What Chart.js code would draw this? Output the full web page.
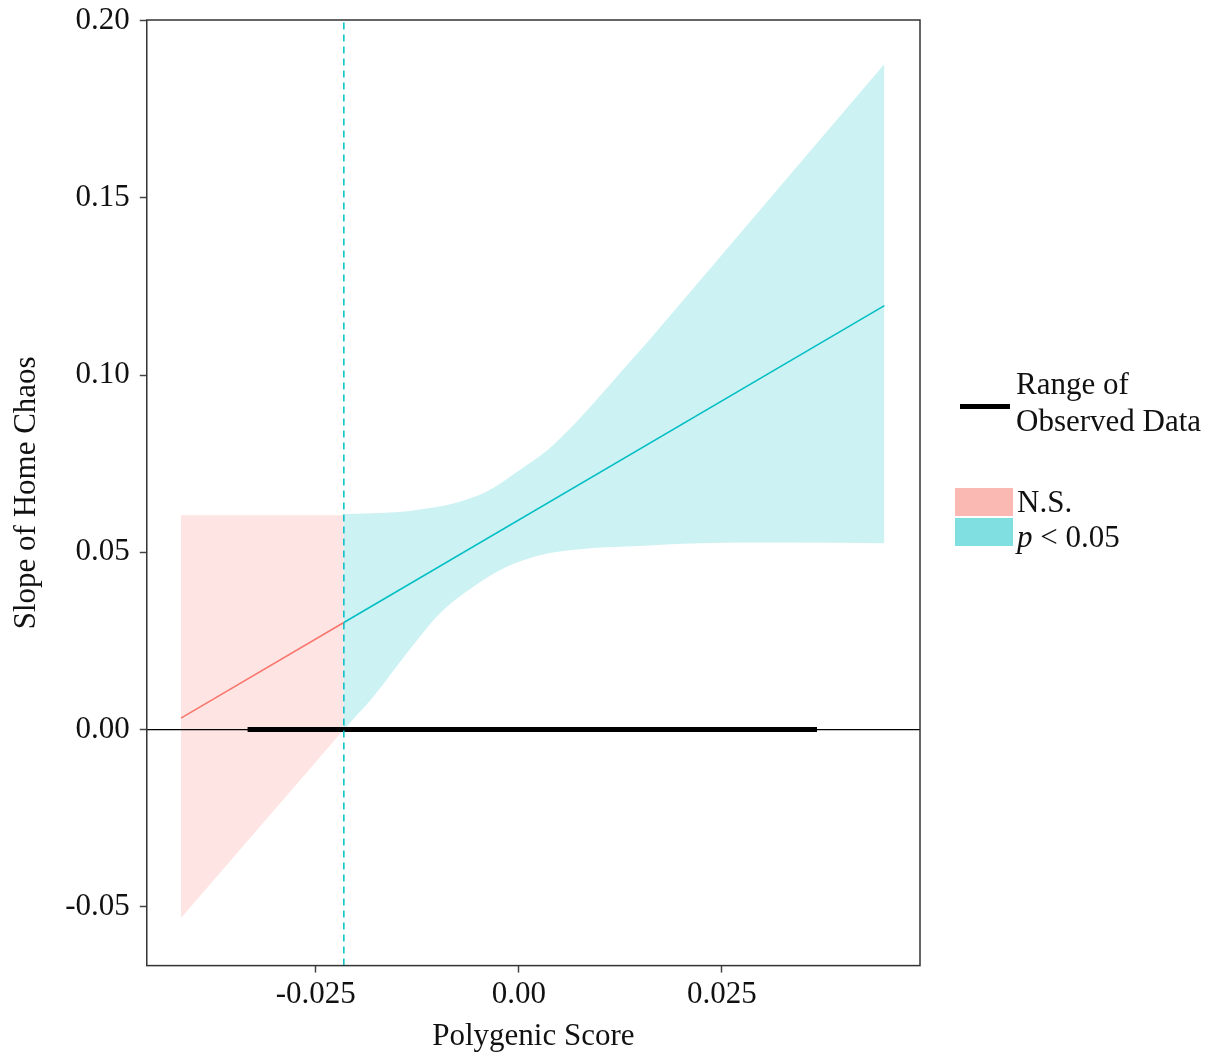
<!DOCTYPE html>
<html>
<head>
  <meta charset="UTF-8" />
  <title>Slope of Home Chaos</title>
  <script src="https://cdn.jsdelivr.net/npm/chart.js"></script>
  <style>
    body { margin: 0; background: #fff; }
    #wrap { position: relative; width: 1223px; height: 1057px; }
    #legend { position: absolute; left: 0; top: 0; font-family: 'Liberation Serif', serif; font-size: 31px; color: #111; }
    .lg { position: absolute; white-space: nowrap; line-height: 36px; }
  </style>
</head>
<body>
<div id="wrap">
  <canvas id="jnChart" width="1223" height="1057"></canvas>
  <div id="legend">
    <div class="lg" style="left:960px;top:404px;width:50px;height:5px;background:#000;"></div>
    <div class="lg" style="left:1016px;top:366px;">Range of</div>
    <div class="lg" style="left:1016px;top:403px;">Observed Data</div>
    <div class="lg" style="left:955px;top:488px;width:58px;height:28px;background:#fbb9b4;"></div>
    <div class="lg" style="left:955px;top:518px;width:58px;height:28px;background:#80dfe1;"></div>
    <div class="lg" style="left:1017px;top:484px;">N.S.</div>
    <div class="lg" style="left:1017px;top:519px;"><i>p</i> &lt; 0.05</div>
  </div>
</div>

<script>
  // axis ticks
  const xTicks = [-0.025, 0, 0.025];
  const xTickLabels = ['-0.025', '0.00', '0.025'];
  const yTicks = [0.20, 0.15, 0.10, 0.05, 0.00, -0.05];
  const yTickLabels = ['0.20', '0.15', '0.10', '0.05', '0.00', '-0.05'];

  // Johnson-Neyman point
  const jnPoint = -0.02155;

  // non-significant region band + estimate
  const nsX = [-0.0416, -0.02155];
  const nsUpper = [0.0605, 0.0605];
  const nsLower = [-0.0532, 0.0];
  const nsEstimate = [0.0032, 0.0302];

  // significant region: upper bound
  const sigUpperX = [-0.02155, -0.0147, -0.0122, -0.0081, -0.0040, 0.0001, 0.0042, 0.0140, 0.0223, 0.0334, 0.0450];
  const sigUpper = [0.0608, 0.0614, 0.0621, 0.0638, 0.0671, 0.0732, 0.0802, 0.1046, 0.1267, 0.1566, 0.1878];
  // significant region: lower bound
  const sigLowerX = [-0.02155, -0.0179, -0.0138, -0.0097, -0.0056, -0.0015, 0.0026, 0.0075, 0.0140, 0.0223, 0.0334, 0.0450];
  const sigLower = [0.0, 0.0093, 0.0215, 0.0328, 0.0403, 0.0459, 0.0492, 0.0509, 0.0517, 0.0526, 0.0528, 0.0526];
  // significant region: estimate
  const sigEstX = [-0.02155, 0.0450];
  const sigEstimate = [0.0302, 0.1196];

  // range of observed data
  const rangeX = [-0.0334, 0.0367];

  const xMin = -0.04581, xMax = 0.04938;
  const yMin = -0.0666, yMax = 0.2002;

  const red = '#F8766D';
  const teal = '#00BFC4';
  const serif = "'Liberation Serif', serif";

  const pts = (xs, ys) => xs.map((x, i) => ({ x: x, y: ys[i] }));

  const boxPlugin = {
    id: 'box',
    afterDraw(chart) {
      const a = chart.chartArea;
      const ctx = chart.ctx;
      ctx.save();
      ctx.strokeStyle = '#333';
      ctx.lineWidth = 1.5;
      ctx.strokeRect(a.left, a.top, a.right - a.left, a.bottom - a.top);
      ctx.restore();
    }
  };

  const lineDefaults = { pointRadius: 0, fill: false, tension: 0 };
  const hidden = { borderWidth: 0, borderColor: 'rgba(0,0,0,0)' };

  const datasets = [
    { ...lineDefaults, ...hidden, label: 'nsUpper', data: pts(nsX, nsUpper), order: 10 },
    { ...lineDefaults, ...hidden, label: 'nsLower', data: pts(nsX, nsLower),
      fill: 0, backgroundColor: 'rgba(248,118,109,0.2)', order: 10 },
    { ...lineDefaults, ...hidden, label: 'sigUpper', data: pts(sigUpperX, sigUpper),
      cubicInterpolationMode: 'monotone', order: 10 },
    { ...lineDefaults, ...hidden, label: 'sigLower', data: pts(sigLowerX, sigLower),
      cubicInterpolationMode: 'monotone', fill: 2, backgroundColor: 'rgba(0,191,196,0.2)', order: 10 },
    { ...lineDefaults, label: 'zero', data: pts([xMin, xMax], [0, 0]), borderColor: '#000', borderWidth: 1.2, order: 5 },
    { ...lineDefaults, label: 'range', data: pts(rangeX, [0, 0]), borderColor: '#000', borderWidth: 5, order: 4 },
    { ...lineDefaults, label: 'nsEst', data: pts(nsX, nsEstimate), borderColor: red, borderWidth: 1.5, order: 3 },
    { ...lineDefaults, label: 'sigEst', data: pts(sigEstX, sigEstimate), borderColor: teal, borderWidth: 1.5, order: 3 },
    { ...lineDefaults, label: 'jn', data: pts([jnPoint, jnPoint], [yMin, yMax]), borderColor: teal, borderWidth: 1.5,
      borderDash: [7, 5], order: 2 }
  ];

  const chart = new Chart(document.getElementById('jnChart'), {
    type: 'line',
    data: { datasets: datasets },
    options: {
      responsive: false,
      animation: false,
      layout: { padding: { left: 4, right: 303, top: 20, bottom: 2 } },
      plugins: { legend: { display: false }, tooltip: { enabled: false } },
      scales: {
        x: {
          type: 'linear',
          min: xMin,
          max: xMax,
          afterBuildTicks: axis => { axis.ticks = xTicks.map(v => ({ value: v })); },
          ticks: {
            callback: (v) => xTickLabels[xTicks.indexOf(v)],
            font: { family: serif, size: 31 },
            color: '#111',
            padding: 4,
            maxRotation: 0
          },
          grid: { drawOnChartArea: false, drawTicks: true, tickLength: 7, tickColor: '#444', tickWidth: 1.5 },
          border: { display: false },
          title: { display: true, text: 'Polygenic Score', font: { family: serif, size: 31 }, color: '#111', padding: { top: 0, bottom: 0 } }
        },
        y: {
          type: 'linear',
          min: yMin,
          max: yMax,
          afterBuildTicks: axis => { axis.ticks = yTicks.map(v => ({ value: v })); },
          afterFit: axis => { axis.paddingTop = 0; axis.paddingBottom = 0; },
          ticks: {
            callback: (v) => yTickLabels[yTicks.indexOf(v)],
            font: { family: serif, size: 31 },
            color: '#111',
            padding: 10
          },
          grid: { drawOnChartArea: false, drawTicks: true, tickLength: 7, tickColor: '#444', tickWidth: 1.5 },
          border: { display: false },
          title: { display: true, text: 'Slope of Home Chaos', font: { family: serif, size: 31 }, color: '#111', padding: { top: 4, bottom: 10 } }
        }
      }
    },
    plugins: [boxPlugin]
  });
</script>
</body>
</html>
